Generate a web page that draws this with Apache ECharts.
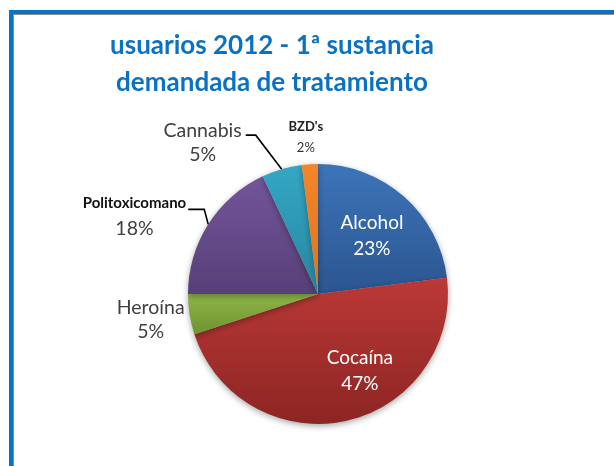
<!DOCTYPE html>
<html>
<head>
<meta charset="utf-8">
<script src="https://cdn.jsdelivr.net/npm/echarts@6/dist/echarts.min.js"></script>
<style>
  html, body { margin: 0; padding: 0; background: #ffffff; }
  #frame {
    position: absolute; left: 9px; top: 10px; width: 700px; height: 520px;
    border-top: 4px solid #0a72c4; border-left: 4px solid #0a72c4;
    box-shadow: inset 1px 1px 0 #8c8c8c;
  }
  #chart { position: absolute; left: 0; top: 0; width: 614px; height: 466px; }
</style>
</head>
<body>
<div id="frame"></div>
<div id="chart"></div>
<script>
// First substance for which treatment was requested, users 2012 (%)
const categories = ['Alcohol', 'Cocaína', 'Heroína', 'Politoxicomano', 'Cannabis', "BZD's"];
const shares = [23, 47, 5, 18, 5, 2];
const sliceColors = [
  ['#3d74b9', '#2b5690'],
  ['#bb3936', '#8c2523'],
  ['#8db546', '#6f9330'],
  ['#73559a', '#573f78'],
  ['#34a7c4', '#26879f'],
  ['#f3862a', '#e0721a']
];

function grad(c) {
  return new echarts.graphic.LinearGradient(0, 0, 0, 1, [
    { offset: 0, color: c[0] }, { offset: 1, color: c[1] }
  ]);
}

const FONT = 'Lato';
const insideText = { position: 'inside', color: '#ffffff', fontSize: 19, fontFamily: FONT, lineHeight: 26 };
const grayText = { position: 'outside', color: '#404040', fontSize: 19.5, fontFamily: FONT, lineHeight: 24 };
const labelStyles = [
  insideText,
  insideText,
  grayText,
  { position: 'outside', formatter: '{b|{b}}\n{p|{c}%}', rich: {
      b: { fontWeight: 'bold', color: '#111111', fontSize: 15, fontFamily: FONT, lineHeight: 24 },
      p: { color: '#404040', fontSize: 19.5, fontFamily: FONT, lineHeight: 26 } } },
  grayText,
  { position: 'outside', formatter: '{b|{b}}\n{p|{c}%}', rich: {
      b: { fontWeight: 'bold', color: '#222222', fontSize: 13, fontFamily: FONT, lineHeight: 21 },
      p: { color: '#333333', fontSize: 13, fontFamily: FONT, lineHeight: 21 } } }
];
const hiddenLine = { show: true, length: 10, length2: 5, lineStyle: { opacity: 0 } };
const lineStyles = [
  { show: false }, { show: false },
  hiddenLine,
  { show: true, length: 10, length2: 10 },
  { show: true, length: 20, length2: 10 },
  hiddenLine
];

// Label placement relative to the slice's outer anchor point:
//   bend/end = leader line vertices, gap = space between line end and text,
//   shift = vertical offset of the text block centre from the line end.
const leaderShapes = {
  2: { bend: [0, 0], end: [0, 0], gap: 5, shift: 5 },
  3: { bend: [-4, -15], end: [-20, -15], gap: 2, shift: 7 },
  4: { bend: [-26, -34], end: [-36, -34], gap: 4, shift: 7.5 },
  5: { bend: [0, 0], end: [0, 0], center: [-4, -27] }
};
// Offsets of the inside labels from their default spot
const insideShift = { 0: [9, -7], 1: [27, 11] };

const data = categories.map((name, i) => ({
  name: name,
  value: shares[i],
  itemStyle: { color: grad(sliceColors[i]) },
  label: labelStyles[i],
  labelLine: lineStyles[i]
}));

const chart = echarts.init(document.getElementById('chart'), null, { renderer: 'canvas' });
chart.setOption({
  backgroundColor: 'transparent',
  animation: false,
  title: {
    text: 'usuarios 2012 - 1ª sustancia\ndemandada de tratamiento',
    left: 267, top: 22, textAlign: 'center',
    textStyle: { color: '#0a72c4', fontSize: 26, fontWeight: 'bold', fontFamily: FONT, lineHeight: 37 }
  },
  series: [{
    type: 'pie',
    center: [318, 294],
    radius: 130,
    startAngle: 90,
    clockwise: true,
    avoidLabelOverlap: false,
    label: { formatter: '{b}\n{c}%' },
    labelLine: { lineStyle: { color: '#000000', width: 1.6 }, smooth: false },
    labelLayout: function (p) {
      const i = p.dataIndex;
      if (insideShift[i]) {
        return { dx: insideShift[i][0], dy: insideShift[i][1] };
      }
      const s = leaderShapes[i];
      if (!s || !p.labelLinePoints) return {};
      const a = p.labelLinePoints[0];
      const bend = [a[0] + s.bend[0], a[1] + s.bend[1]];
      const end = [a[0] + s.end[0], a[1] + s.end[1]];
      let cx, cy;
      if (s.center) {
        cx = a[0] + s.center[0];
        cy = a[1] + s.center[1];
      } else {
        cx = end[0] - s.gap - p.labelRect.width / 2;
        cy = end[1] + s.shift;
      }
      return {
        x: cx, y: cy, align: 'center', verticalAlign: 'middle',
        labelLinePoints: [a, bend, end]
      };
    },
    itemStyle: { shadowBlur: 6, shadowColor: 'rgba(0,0,0,0.35)', shadowOffsetY: 2 },
    emphasis: { disabled: true },
    data: data
  }]
});
</script>
</body>
</html>
